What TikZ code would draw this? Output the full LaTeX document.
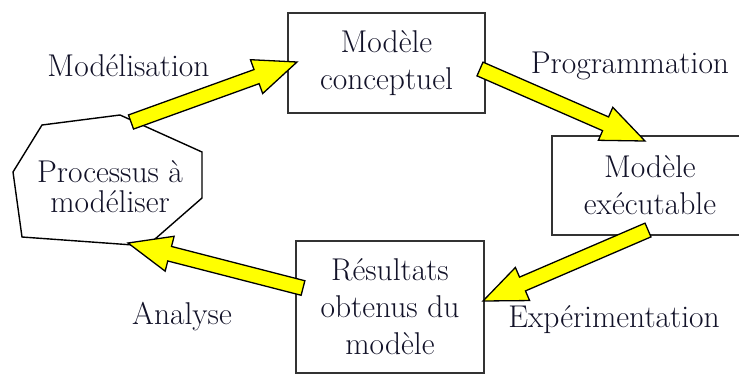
\documentclass[tikz,border=0pt]{standalone}
\usepackage{fontspec}
\usetikzlibrary{calc}
\definecolor{txt}{RGB}{18,18,40}
\definecolor{arrowfill}{RGB}{255,255,0}
\newcommand\bigfont{\rmfamily\fontsize{31.5}{37}\selectfont}
\newcommand\fatarrow[2]{%
  \path ($(#2)!43pt!(#1)$) coordinate (hb);
  \draw[fatarr] ($(#1)!7.5pt!90:(#2)$) -- ($(hb)!7.5pt!90:(#2)$) -- ($(hb)!18pt!90:(#2)$) -- (#2)
     -- ($(hb)!18pt!-90:(#2)$) -- ($(hb)!7.5pt!-90:(#2)$) -- ($(#1)!7.5pt!-90:(#2)$) -- cycle;}
\tikzset{
  box/.style={draw=black!80, line width=1.8pt, inner sep=0pt, align=center, text=txt, font=\bigfont},
  lbl/.style={anchor=base, text=txt, font=\bigfont, inner sep=0pt},
  fatarr/.style={draw=black, line width=1.3pt, fill=arrowfill, line join=miter},
  octo/.style={draw=black, line width=1.4pt, line join=miter}
}
\begin{document}
\begin{tikzpicture}[x=1pt,y=-1pt]
\useasboundingbox (0,0) rectangle (739,376);
% boxes
\node[box, minimum width=197pt, minimum height=100pt] (concept) at (386.5,63) {Modèle\\conceptuel};
\node[box, minimum width=196pt, minimum height=99pt] (exec) at (650,185.5) {Modèle\\exécutable};
\node[box, minimum width=188pt, minimum height=132pt] (result) at (390,307) {Résultats\\obtenus du\\modèle};
% process polygon
\draw[octo] (42,125) -- (120,115) -- (202,152) -- (202,198) -- (147,246) -- (22,237) -- (13,172) -- cycle;
\node[align=center, text=txt, font=\rmfamily\fontsize{31.5}{30}\selectfont, inner sep=0pt] (proc) at (110,186.5) {Processus à\\modéliser};
% labels
\node[lbl] (lmod) at (128.5,76) {Modélisation};
\node[lbl] (lprog) at (630,73) {Programmation};
\node[lbl] (lexp) at (614,327.5) {Expérimentation};
\node[lbl] (lana) at (182,324) {Analyse};
% arrow ends
\coordinate (a1s) at (131,122);
\coordinate (a1e) at (297,62);
\coordinate (a2s) at (480,69);
\coordinate (a2e) at (645,141);
\coordinate (a3s) at (648,230);
\coordinate (a3e) at (483,301);
\coordinate (a4s) at (303,288);
\coordinate (a4e) at (128,243);
\fatarrow{a1s}{a1e}
\fatarrow{a2s}{a2e}
\fatarrow{a3s}{a3e}
\fatarrow{a4s}{a4e}
\end{tikzpicture}
\end{document}
